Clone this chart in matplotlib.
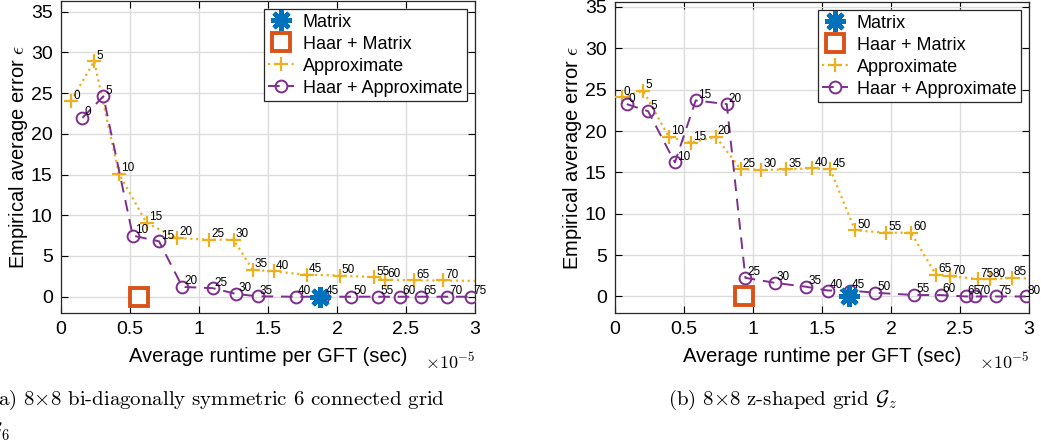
import numpy as np
import matplotlib
matplotlib.use("Agg")
import matplotlib.pyplot as plt

plt.rcParams["font.family"] = ["Liberation Sans", "DejaVu Sans"]
plt.rcParams["mathtext.fontset"] = "cm"

# ---------- data (runtime in units of 1e-5 sec) ----------
# (a) bi-diagonally symmetric 6 connected grid
a_mat_x, a_mat_y = [1.877], [0.0]
a_hmat_x, a_hmat_y = [0.567], [0.0]
a_apx_lbl = [0, 5, 10, 15, 20, 25, 30, 35, 40, 45, 50, 55, 60, 65, 70, 75]
a_apx_x = [0.072, 0.24, 0.42, 0.62, 0.84, 1.075, 1.25, 1.39, 1.54, 1.78, 2.02, 2.27, 2.35, 2.56, 2.77, 3.10]
a_apx_y = [24.0, 28.9, 15.1, 9.05, 7.2, 7.0, 7.0, 3.3, 3.1, 2.7, 2.6, 2.4, 2.1, 2.0, 2.0, 1.9]
a_hapx_lbl = [0, 5, 10, 15, 20, 25, 30, 35, 40, 45, 50, 55, 60, 65, 70, 75]
a_hapx_x = [0.155, 0.307, 0.52, 0.71, 0.88, 1.10, 1.27, 1.425, 1.70, 1.90, 2.105, 2.30, 2.46, 2.61, 2.80, 2.97]
a_hapx_y = [21.95, 24.6, 7.5, 6.8, 1.2, 1.05, 0.33, 0.05, 0.0, 0.0, 0.0, 0.0, 0.0, 0.0, 0.0, 0.0]

# (b) z-shaped grid
b_mat_x, b_mat_y = [1.695], [0.0]
b_hmat_x, b_hmat_y = [0.933], [0.0]
b_apx_lbl = [0, 5, 10, 15, 20, 25, 30, 35, 40, 45, 50, 55, 60, 65, 70, 75, 80, 85, 90]
b_apx_x = [0.048, 0.205, 0.39, 0.55, 0.73, 0.91, 1.06, 1.24, 1.43, 1.56, 1.74, 1.965, 2.145,
           2.325, 2.43, 2.63, 2.72, 2.875, 3.10]
b_apx_y = [24.1, 24.85, 19.3, 18.6, 19.3, 15.4, 15.3, 15.35, 15.5, 15.35, 8.0, 7.7, 7.7,
           2.65, 2.45, 2.1, 2.1, 2.25, 2.1]
b_hapx_lbl = [0, 5, 10, 15, 20, 25, 30, 35, 40, 45, 50, 55, 60, 65, 70, 75, 80]
b_hapx_x = [0.085, 0.24, 0.434, 0.585, 0.81, 0.945, 1.157, 1.386, 1.54, 1.70, 1.885, 2.17, 2.36,
            2.54, 2.61, 2.76, 2.975]
b_hapx_y = [23.25, 22.4, 16.2, 23.7, 23.25, 2.25, 1.65, 1.17, 0.72, 0.72, 0.45, 0.17, 0.17,
            0.0, 0.0, 0.0, 0.0]

C_BLUE, C_ORANGE, C_YELLOW, C_PURPLE = "#0072BD", "#D95319", "#EDB120", "#7E2F8E"

fig = plt.figure(figsize=(10.41, 4.48), dpi=100)
ax_a = fig.add_axes([61 / 1041, (448 - 313) / 448, 414 / 1041, 312 / 448])
ax_b = fig.add_axes([615 / 1041, (448 - 313) / 448, 414 / 1041, 311 / 448])


def panel(ax, mx, my, hx, hy, ax_x, ax_y, ax_l, hax_x, hax_y, hax_l, ytop):
    ax.plot(mx, my, ls="none", marker=(8, 2, 0), ms=15, mew=3.2, color=C_BLUE,
            label="Matrix", zorder=5)
    ax.plot(hx, hy, ls="none", marker="s", ms=12.5, mew=2.8, mfc="white", mec=C_ORANGE,
            label="Haar + Matrix", zorder=5)
    ax.plot(ax_x, ax_y, ls=":", lw=1.6, marker="+", ms=10, mew=1.6, color=C_YELLOW,
            label="Approximate", zorder=3)
    ax.plot(hax_x, hax_y, ls=(0, (6, 4)), lw=1.4, marker="o", ms=8.5, mew=1.4, mfc="none",
            color=C_PURPLE, label="Haar + Approximate", zorder=4)
    for xs, ys, ls in ((ax_x, ax_y, ax_l), (hax_x, hax_y, hax_l)):
        for x, y, l in zip(xs, ys, ls):
            if x <= 3.0:
                ax.annotate(str(l), (x, y), xytext=(1.5, 4), textcoords="offset points",
                            fontsize=8.5, ha="left", va="center", zorder=6)
    ax.set_xlim(0, 3)
    ax.set_ylim(-2, ytop)
    ax.set_xticks(np.arange(0, 3.01, 0.5))
    ax.set_xticklabels(["0", "0.5", "1", "1.5", "2", "2.5", "3"])
    ax.set_yticks(np.arange(0, 36, 5))
    ax.tick_params(direction="in", top=True, right=True, labelsize=14, length=5,
                   width=0.8, pad=6)
    ax.grid(True, color="#dcdcdc", lw=1)
    ax.set_axisbelow(True)
    for s in ax.spines.values():
        s.set_linewidth(0.9)
        s.set_color("#262626")
    ax.set_xlabel("Average runtime per GFT (sec)", fontsize=14.5, labelpad=6)
    ax.set_ylabel(r"Empirical average error $\epsilon$", fontsize=14.5, labelpad=1)
    ax.text(1.0, -0.125, r"$\times10^{-5}$", transform=ax.transAxes, fontsize=13,
            ha="right", va="top", family="DejaVu Sans")
    leg = ax.legend(loc="upper right", fontsize=13, fancybox=False, framealpha=1,
                    edgecolor="#262626", borderpad=0.25, labelspacing=0.28,
                    handlelength=1.4, handletextpad=0.5, borderaxespad=0.45)
    leg.get_frame().set_linewidth(0.9)


panel(ax_a, a_mat_x, a_mat_y, a_hmat_x, a_hmat_y, a_apx_x, a_apx_y, a_apx_lbl,
      a_hapx_x, a_hapx_y, a_hapx_lbl, 36.3)
panel(ax_b, b_mat_x, b_mat_y, b_hmat_x, b_hmat_y, b_apx_x, b_apx_y, b_apx_lbl,
      b_hapx_x, b_hapx_y, b_hapx_lbl, 35.6)

cap = dict(fontsize=15, family=["cmr10", "DejaVu Serif"], va="center")
fig.text(-10 / 1041, 1 - 400 / 448, r"(a) 8$\times$8 bi-diagonally symmetric 6 connected grid", **cap)
fig.text(-12 / 1041, 1 - 432 / 448, r"$\mathcal{G}_6$", **cap)
fig.text(668 / 1041, 1 - 400 / 448, r"(b) 8$\times$8 z-shaped grid $\mathcal{G}_z$", **cap)

fig.savefig("out.png", dpi=100)
